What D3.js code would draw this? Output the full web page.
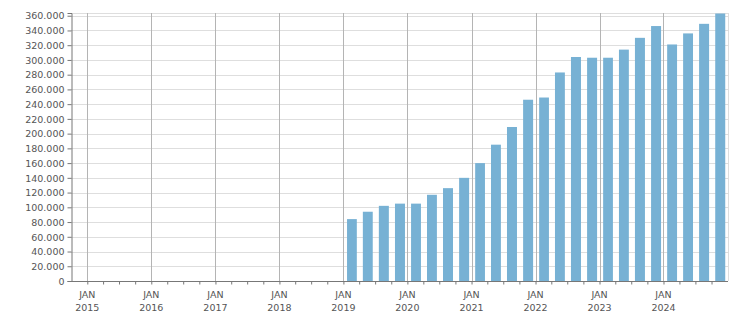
<!DOCTYPE html>
<html>
<head>
<meta charset="utf-8">
<script src="https://cdn.jsdelivr.net/npm/d3@7"></script>
<style>
  body { margin: 0; background: #fff; }
  text { font-family: "DejaVu Sans", sans-serif; font-size: 9.5px; fill: #555; }
  .bar { fill: #77b1d4; }
  .hgrid { stroke: #dedede; stroke-width: 1; }
  .vgrid { stroke: #b4b4b4; stroke-width: 1; }
  .domain, .tick line { stroke: #777; }
</style>
</head>
<body>
<svg id="chart" width="751" height="313"></svg>
<script>
// quarterly values, Q1 2019 .. Q4 2024
var quarters = ["2019-01","2019-04","2019-07","2019-10",
                "2020-01","2020-04","2020-07","2020-10",
                "2021-01","2021-04","2021-07","2021-10",
                "2022-01","2022-04","2022-07","2022-10",
                "2023-01","2023-04","2023-07","2023-10",
                "2024-01","2024-04","2024-07","2024-10"];
var values = [84000, 94000, 102000, 105000,
              105000, 117000, 126000, 140000,
              160000, 185000, 209000, 246000,
              249000, 283000, 304000, 303000,
              303000, 314000, 330000, 346000,
              321000, 336000, 349000, 363000];
var yTicks = d3.range(0, 360001, 20000);
var years = [2015, 2016, 2017, 2018, 2019, 2020, 2021, 2022, 2023, 2024];

var mLeft = 71, mRight = 728, mTop = 13, mBottom = 281;
var svg = d3.select("#chart");
var parse = d3.timeParse("%Y-%m");

var data = quarters.map(function(q, i) {
  var s = parse(q);
  return { start: s, end: d3.timeMonth.offset(s, 3), value: values[i] };
});

var x = d3.scaleTime()
          .domain([new Date(2014, 8, 30), new Date(2025, 0, 3)])
          .range([mLeft, mRight]);
var y = d3.scaleLinear()
          .domain([0, 363700])
          .range([mBottom, mTop]);

var fmt = d3.formatLocale({ decimal: ",", thousands: ".", grouping: [3], currency: ["", ""] }).format(",d");

// frame
svg.append("line").attr("class", "hgrid")
   .attr("x1", mLeft).attr("x2", mRight).attr("y1", mTop + 0.5).attr("y2", mTop + 0.5);
svg.append("line").attr("class", "hgrid")
   .attr("x1", mRight + 0.5).attr("x2", mRight + 0.5).attr("y1", mTop).attr("y2", mBottom);

// horizontal grid
svg.append("g").selectAll("line")
   .data(yTicks.filter(function(d) { return d > 0; }))
   .enter().append("line")
     .attr("class", "hgrid")
     .attr("x1", mLeft).attr("x2", mRight)
     .attr("y1", function(d) { return Math.round(y(d)) + 0.5; })
     .attr("y2", function(d) { return Math.round(y(d)) + 0.5; });

// vertical grid at years
var yearDates = years.map(function(d) { return new Date(d, 0, 1); });
svg.append("g").selectAll("line")
   .data(yearDates)
   .enter().append("line")
     .attr("class", "vgrid")
     .attr("x1", function(d) { return Math.round(x(d)) + 0.5; })
     .attr("x2", function(d) { return Math.round(x(d)) + 0.5; })
     .attr("y1", mTop).attr("y2", mBottom);

// bars
svg.append("g").selectAll("rect")
   .data(data)
   .enter().append("rect")
     .attr("class", "bar")
     .attr("x", function(d) { var w = x(d.end) - x(d.start); return x(d.start) + w * 0.23; })
     .attr("width", function(d) { return (x(d.end) - x(d.start)) * 0.62; })
     .attr("y", function(d) { return y(d.value); })
     .attr("height", function(d) { return mBottom - y(d.value); });

// y axis
var yAxis = svg.append("g")
   .attr("transform", "translate(" + (mLeft + 0.5) + ",0)")
   .call(d3.axisLeft(y).tickValues(yTicks).tickFormat(fmt).tickSize(4).tickPadding(3));
yAxis.selectAll(".tick text").attr("dy", "0.34em");

// x axis: quarterly minor ticks, yearly labels
var quarterTicks = d3.timeMonth.every(3).range(new Date(2015, 0, 1), new Date(2025, 0, 1));
var xAxis = svg.append("g")
   .attr("transform", "translate(0," + (mBottom + 0.5) + ")")
   .call(d3.axisBottom(x).tickValues(quarterTicks).tickSize(3).tickFormat(""));
xAxis.select(".domain").attr("d", "M" + mLeft + ",0H" + mRight);

var labels = svg.append("g").selectAll("text")
   .data(yearDates)
   .enter().append("text")
     .attr("text-anchor", "middle")
     .attr("x", function(d) { return x(d); });
labels.append("tspan").attr("x", function(d) { return x(d); }).attr("y", 298).text("JAN");
labels.append("tspan").attr("x", function(d) { return x(d); }).attr("y", 311)
      .text(function(d) { return d.getFullYear(); });
</script>
</body>
</html>
